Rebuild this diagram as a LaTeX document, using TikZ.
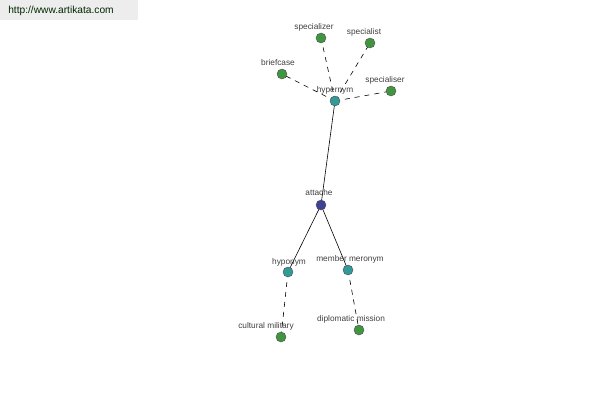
\documentclass[tikz,border=0pt]{standalone}
\usepackage{fontspec}
\setmainfont{Liberation Sans}
\begin{document}
\begin{tikzpicture}[x=1pt,y=-1pt,
  dot/.style={circle,draw=black!70,line width=0.4pt,minimum size=10pt,inner sep=0pt},
  leaf/.style={dot,fill=green!45!black!75!white},
  mid/.style={dot,fill=teal!80!white},
  root/.style={dot,fill=blue!45!black!75!white},
  lbl/.style={font=\fontsize{8.3}{9}\selectfont,text=black!75,inner sep=0pt},
  rel/.style={draw=black,line width=0.6pt,dash pattern=on 5pt off 5pt},
  link/.style={draw=black,line width=0.6pt}]
\useasboundingbox (0,0) rectangle (600,400);
\fill[black!7] (0,0) rectangle (138,20);
\node[font=\fontsize{10.2}{11}\selectfont,text=black!75!green!60!black,inner sep=0pt] (url) at (61,11) {http://www.artikata.com};
% coordinates
\coordinate (cA) at (321,205);
\coordinate (cH) at (335,101);
\coordinate (cS1) at (321,38);
\coordinate (cS2) at (370,43);
\coordinate (cB) at (282,74);
\coordinate (cS3) at (391,91);
\coordinate (cHy) at (288,272);
\coordinate (cM) at (348,270);
\coordinate (cC) at (281,337);
\coordinate (cD) at (359,330);
% edges
\draw[link] (cA) -- (cH);
\draw[link] (cA) -- (cHy);
\draw[link] (cA) -- (cM);
\draw[rel] (cH) -- (cS1);
\draw[rel] (cH) -- (cS2);
\draw[rel] (cH) -- (cB);
\draw[rel] (cH) -- (cS3);
\draw[rel] (cHy) -- (cC);
\draw[rel] (cM) -- (cD);
% nodes
\node[root] (attache) at (cA) {};
\node[mid] (hypernym) at (cH) {};
\node[leaf] (specializer) at (cS1) {};
\node[leaf] (specialist) at (cS2) {};
\node[leaf] (briefcase) at (cB) {};
\node[leaf] (specialiser) at (cS3) {};
\node[mid] (hyponym) at (cHy) {};
\node[mid] (meronym) at (cM) {};
\node[leaf] (cultural) at (cC) {};
\node[leaf] (diplomatic) at (cD) {};
% labels
\node[lbl] (l1) at (319,193) {attache};
\node[lbl] (l2) at (335,90) {hypernym};
\node[lbl] (l3) at (314,27) {specializer};
\node[lbl] (l4) at (364,32) {specialist};
\node[lbl] (l5) at (278,63) {briefcase};
\node[lbl] (l6) at (385,80) {specialiser};
\node[lbl] (l7) at (289,262) {hyponym};
\node[lbl] (l8) at (350,259) {member meronym};
\node[lbl] (l9) at (266,326) {cultural military};
\node[lbl] (l10) at (351,319) {diplomatic mission};
\end{tikzpicture}
\end{document}
